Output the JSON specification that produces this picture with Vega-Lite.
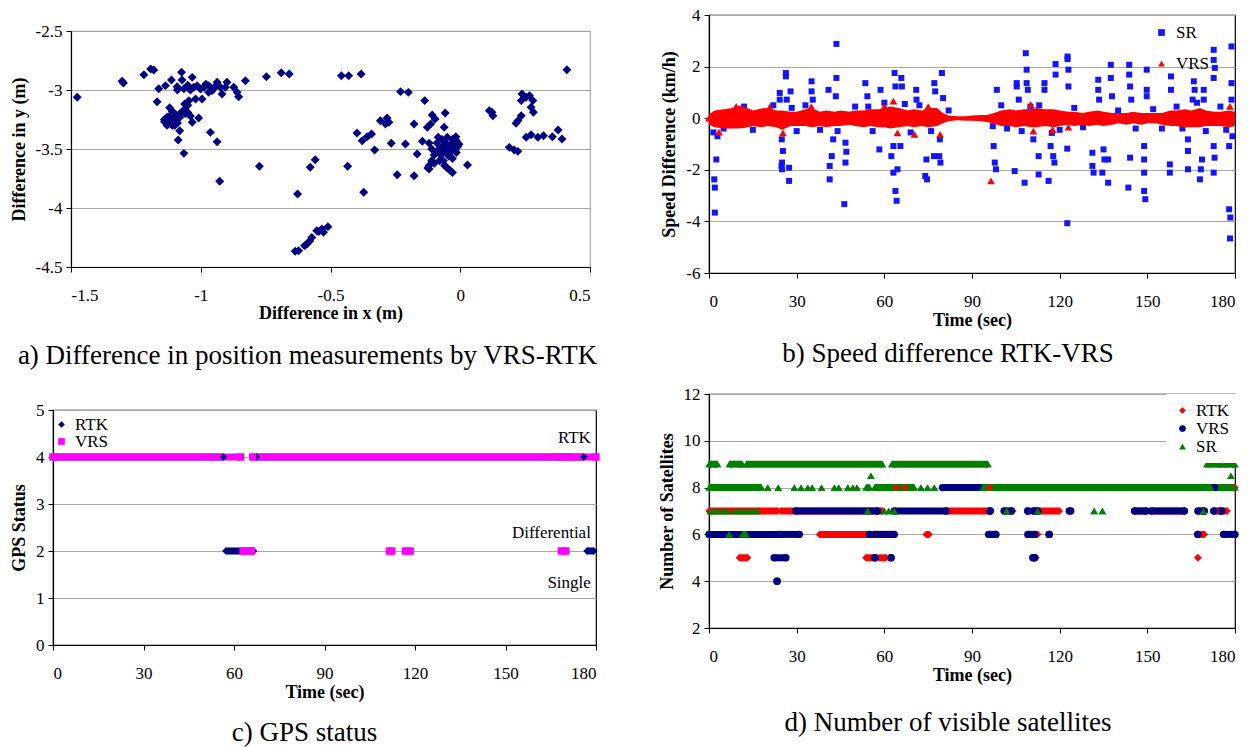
{
"$schema": "https://vega.github.io/schema/vega-lite/v6.json",
"background": "white",
"padding": {"left": 2, "top": 5, "right": 2, "bottom": 2},
"config": {
 "locale": {"number": {"decimal": ".", "thousands": ",", "grouping": [3], "currency": ["$", ""], "minus": "-"}},
 "font": "Liberation Serif",
 "view": {"stroke": "black", "strokeWidth": 1.2},
 "axis": {"labelFont": "Liberation Serif", "titleFont": "Liberation Serif", "labelFontSize": 17, "titleFontSize": 18, "titleFontWeight": "bold", "labelColor": "black", "titleColor": "black", "domainColor": "black", "domainWidth": 1.2, "tickColor": "black", "tickSize": 5, "gridColor": "#a8a8a8", "gridWidth": 1.2, "labelPadding": 4},
 "axisX": {"grid": false, "labelPadding": 15, "titlePadding": 2},
 "axisY": {"grid": true, "titlePadding": 7},
 "legend": {"labelFont": "Liberation Serif", "labelColor": "black", "labelFontSize": 17, "title": null},
 "title": {"font": "Liberation Serif", "fontSize": 27, "fontWeight": "normal", "color": "black", "orient": "bottom", "anchor": "middle", "frame": "group", "offset": 14}
},
"spacing": 56,
"resolve": {"scale": {"color": "independent", "shape": "independent"}, "legend": {"color": "independent", "shape": "independent"}},
"hconcat": [
 {
  "columns": 1, "align": "none", "spacing": 2,
  "resolve": {"scale": {"color": "independent", "shape": "independent"}, "legend": {"color": "independent", "shape": "independent"}},
  "concat": [
   {"width": 1, "height": 1, "view": {"stroke": null}, "data": {"values": [{"z": 0}]}, "mark": {"type": "point", "opacity": 0}, "encoding": {}},
   {
    "columns": 1, "align": "none", "spacing": 30,
    "resolve": {"scale": {"color": "independent", "shape": "independent"}, "legend": {"color": "independent", "shape": "independent"}},
    "concat": [
     {"spacing": 0, "hconcat": [
      {"width": 1, "height": 1, "view": {"stroke": null}, "data": {"values": [{"z": 0}]}, "mark": {"type": "point", "opacity": 0}, "encoding": {}},
      {
       "width": 519, "height": 236,
       "title": {"text": "a) Difference in position measurements by VRS-RTK", "offset": 21, "dx": -23},
       "view": {"stroke": "#a8a8a8"},
       "data": {"values": [
{"x":-1.476,"y":-3.062},{"x":-1.303,"y":-2.926},{"x":-1.298,"y":-2.94},{"x":-1.219,"y":-2.87},{"x":-1.193,"y":-2.822},{"x":-1.181,"y":-2.83},{"x":-1.162,"y":-2.99},{"x":-1.136,"y":-2.963},{"x":-1.113,"y":-2.915},{"x":-1.168,"y":-3.099},{"x":-1.074,"y":-2.85},{"x":-1.072,"y":-2.915},{"x":-1.091,"y":-2.972},{"x":-1.065,"y":-2.99},{"x":-1.033,"y":-2.893},{"x":-1.027,"y":-2.977},{"x":-1.014,"y":-2.963},{"x":-1.001,"y":-2.992},{"x":-0.988,"y":-2.977},{"x":-0.969,"y":-2.963},{"x":-0.957,"y":-3.006},{"x":-0.937,"y":-2.935},{"x":-0.924,"y":-2.977},{"x":-0.918,"y":-3.034},{"x":-0.899,"y":-2.935},{"x":-0.905,"y":-2.977},{"x":-0.873,"y":-2.977},{"x":-0.86,"y":-3.02},{"x":-0.854,"y":-3.057},{"x":-0.828,"y":-2.921},{"x":-1.02,"y":-3.076},{"x":-0.995,"y":-3.076},{"x":-1.062,"y":-3.119},{"x":-1.046,"y":-3.091},{"x":-1.033,"y":-3.274},{"x":-1.008,"y":-3.237},{"x":-1.081,"y":-3.345},{"x":-1.087,"y":-3.424},{"x":-1.065,"y":-3.537},{"x":-0.963,"y":-3.359},{"x":-0.937,"y":-3.438},{"x":-0.927,"y":-3.774},{"x":-0.747,"y":-2.887},{"x":-0.69,"y":-2.853},{"x":-0.659,"y":-2.864},{"x":-0.774,"y":-3.647},{"x":-0.578,"y":-3.655},{"x":-0.559,"y":-3.591},{"x":-0.627,"y":-3.881},{"x":-0.636,"y":-4.367},{"x":-0.623,"y":-4.362},{"x":-0.591,"y":-4.305},{"x":-0.572,"y":-4.249},{"x":-0.553,"y":-4.192},{"x":-0.533,"y":-4.178},{"x":-0.51,"y":-4.158},{"x":-0.527,"y":-4.206},{"x":-0.6,"y":-4.32},{"x":-0.58,"y":-4.28},{"x":-0.545,"y":-4.2},
{"x":-1.14,"y":-3.25},{"x":-1.13,"y":-3.28},{"x":-1.12,"y":-3.27},{"x":-1.11,"y":-3.24},{"x":-1.12,"y":-3.22},{"x":-1.1,"y":-3.2},{"x":-1.13,"y":-3.23},{"x":-1.1,"y":-3.27},{"x":-1.09,"y":-3.24},{"x":-1.08,"y":-3.2},{"x":-1.07,"y":-3.18},{"x":-1.06,"y":-3.16},{"x":-1.05,"y":-3.13},{"x":-1.11,"y":-3.3},{"x":-1.14,"y":-3.27},{"x":-1.09,"y":-3.28},{"x":-1.12,"y":-3.15},{"x":-1.11,"y":-3.18},{"x":-1.08,"y":-3.23},{"x":-1.06,"y":-3.2},{"x":-1.1,"y":-3.3},{"x":-1.13,"y":-3.3},{"x":-1.04,"y":-3.22},{"x":-1.05,"y":-3.19},{"x":-0.98,"y":-2.95},{"x":-0.95,"y":-2.99},{"x":-0.94,"y":-2.96},{"x":-0.97,"y":-3.02},{"x":-1.04,"y":-3.0},{"x":-1.05,"y":-2.96},{"x":-1.09,"y":-3.0},
{"x":-0.458,"y":-2.879},{"x":-0.43,"y":-2.879},{"x":-0.382,"y":-2.864},{"x":0.411,"y":-2.828},{"x":-0.23,"y":-3.014},{"x":-0.2,"y":-3.02},{"x":-0.137,"y":-3.09},{"x":-0.058,"y":-3.195},{"x":-0.108,"y":-3.212},{"x":-0.097,"y":-3.246},{"x":-0.114,"y":-3.288},{"x":-0.127,"y":-3.316},{"x":-0.178,"y":-3.288},{"x":-0.062,"y":-3.316},{"x":-0.308,"y":-3.26},{"x":-0.282,"y":-3.237},{"x":-0.275,"y":-3.274},{"x":-0.288,"y":-3.288},{"x":-0.398,"y":-3.364},{"x":-0.378,"y":-3.43},{"x":-0.359,"y":-3.396},{"x":-0.342,"y":-3.373},{"x":-0.33,"y":-3.508},{"x":-0.266,"y":-3.452},{"x":-0.211,"y":-3.458},{"x":-0.166,"y":-3.542},{"x":-0.146,"y":-3.435},{"x":-0.434,"y":-3.647},{"x":-0.372,"y":-3.867},{"x":-0.243,"y":-3.718},{"x":-0.178,"y":-3.726},{"x":-0.12,"y":-3.669},
{"x":-0.12,"y":-3.45},{"x":-0.11,"y":-3.5},{"x":-0.1,"y":-3.55},{"x":-0.09,"y":-3.45},{"x":-0.085,"y":-3.4},{"x":-0.08,"y":-3.5},{"x":-0.075,"y":-3.55},{"x":-0.07,"y":-3.48},{"x":-0.065,"y":-3.6},{"x":-0.06,"y":-3.52},{"x":-0.055,"y":-3.45},{"x":-0.05,"y":-3.5},{"x":-0.045,"y":-3.56},{"x":-0.04,"y":-3.47},{"x":-0.035,"y":-3.52},{"x":-0.03,"y":-3.58},{"x":-0.025,"y":-3.45},{"x":-0.02,"y":-3.5},{"x":-0.015,"y":-3.53},{"x":-0.01,"y":-3.48},{"x":-0.1,"y":-3.62},{"x":-0.11,"y":-3.6},{"x":-0.12,"y":-3.64},{"x":-0.125,"y":-3.66},{"x":-0.08,"y":-3.6},{"x":-0.06,"y":-3.64},{"x":-0.05,"y":-3.66},{"x":-0.04,"y":-3.68},{"x":-0.03,"y":-3.7},{"x":-0.09,"y":-3.52},{"x":-0.07,"y":-3.42},{"x":-0.05,"y":-3.4},{"x":-0.03,"y":-3.42},{"x":-0.015,"y":-3.43},{"x":-0.005,"y":-3.46},
{"x":-0.017,"y":-3.396},{"x":0.028,"y":-3.636},{"x":0.112,"y":-3.175},{"x":0.122,"y":-3.189},{"x":0.126,"y":-3.218},{"x":0.238,"y":-3.034},{"x":0.254,"y":-3.062},{"x":0.267,"y":-3.048},{"x":0.28,"y":-3.09},{"x":0.235,"y":-3.09},{"x":0.273,"y":-3.147},{"x":0.282,"y":-3.189},{"x":0.235,"y":-3.218},{"x":0.222,"y":-3.26},{"x":0.215,"y":-3.282},{"x":0.189,"y":-3.486},{"x":0.208,"y":-3.508},{"x":0.222,"y":-3.52},{"x":0.254,"y":-3.401},{"x":0.273,"y":-3.379},{"x":0.299,"y":-3.401},{"x":0.321,"y":-3.387},{"x":0.355,"y":-3.396},{"x":0.377,"y":-3.339},{"x":0.392,"y":-3.415}
       ]},
       "mark": {"type": "point", "shape": "diamond", "filled": true, "size": 80, "color": "#000080", "opacity": 1},
       "encoding": {
        "x": {"field": "x", "type": "quantitative", "scale": {"domain": [-1.5, 0.5], "nice": false, "zero": false}, "axis": {"title": "Difference in x (m)", "values": [-1.5, -1, -0.5, 0, 0.5], "format": "~g", "titlePadding": 1}},
        "y": {"field": "y", "type": "quantitative", "scale": {"domain": [-4.5, -2.5], "nice": false, "zero": false}, "axis": {"title": "Difference in y (m)", "values": [-4.5, -4, -3.5, -3, -2.5], "format": "~g"}}
       }
      }
     ]},
     {"spacing": 0, "hconcat": [
      {"width": 1, "height": 1, "view": {"stroke": null}, "data": {"values": [{"z": 0}]}, "mark": {"type": "point", "opacity": 0}, "encoding": {}},
      {
       "width": 543, "height": 235,
       "title": {"text": "c) GPS status", "offset": 19, "dx": -20},
       "data": {"values": [
{"s":"RTK","n":4,"t0":0,"t1":56.5},{"s":"RTK","n":4,"t0":67.5,"t1":176},{"s":"RTK","n":2,"t0":57.3,"t1":66.5},{"s":"RTK","n":2,"t0":177,"t1":179.3},
{"s":"VRS","n":4,"t0":0,"t1":62.2},{"s":"VRS","n":4,"t0":66.2,"t1":168.2},{"s":"VRS","n":4,"t0":170.3,"t1":180},{"s":"VRS","n":2,"t0":63,"t1":65.8},{"s":"VRS","n":2,"t0":111.5,"t1":112.3},{"s":"VRS","n":2,"t0":116.8,"t1":118.4},{"s":"VRS","n":2,"t0":168.5,"t1":170}
       ]},
       "layer": [
        {"transform": [{"filter": "datum.s === 'RTK'"}],
         "mark": {"type": "rule", "strokeWidth": 7, "strokeCap": "butt", "color": "#000080"},
         "encoding": {
          "x": {"field": "t0", "type": "quantitative", "scale": {"domain": [0, 180], "nice": false}, "axis": {"title": "Time (sec)", "values": [0, 30, 60, 90, 120, 150, 180]}},
          "x2": {"field": "t1"},
          "y": {"field": "n", "type": "quantitative", "scale": {"domain": [0, 5], "nice": false}, "axis": {"title": "GPS Status", "values": [0, 1, 2, 3, 4, 5]}}
         }},
        {"transform": [{"filter": "datum.s === 'VRS'"}],
         "mark": {"type": "rule", "strokeWidth": 7, "strokeCap": "butt", "color": "#ff00ff"},
         "encoding": {
          "x": {"field": "t0", "type": "quantitative"},
          "x2": {"field": "t1"},
          "y": {"field": "n", "type": "quantitative"}
         }},
        {"mark": {"type": "point", "filled": true, "size": 55, "opacity": 1},
         "encoding": {
          "x": {"field": "t0", "type": "quantitative"},
          "y": {"field": "n", "type": "quantitative"},
          "color": {"field": "s", "type": "nominal", "scale": {"domain": ["RTK", "VRS"], "range": ["#000080", "#ff00ff"]}, "legend": {"orient": "none", "legendX": 48, "legendY": 6, "rowPadding": -1, "symbolSize": 45, "labelOffset": 5}},
          "shape": {"field": "s", "type": "nominal", "scale": {"domain": ["RTK", "VRS"], "range": ["diamond", "square"]}}
         }},
        {"mark": {"type": "point", "filled": true, "size": 55, "opacity": 1},
         "encoding": {
          "x": {"field": "t1", "type": "quantitative"},
          "y": {"field": "n", "type": "quantitative"},
          "color": {"field": "s", "type": "nominal"},
          "shape": {"field": "s", "type": "nominal"}
         }},
        {"data": {"values": [{"label": "RTK", "t": 178.3, "v": 4.4}, {"label": "Differential", "t": 178.3, "v": 2.38}, {"label": "Single", "t": 178.3, "v": 1.32}]},
         "mark": {"type": "text", "align": "right", "baseline": "middle", "fontSize": 17, "font": "Liberation Serif", "color": "black"},
         "encoding": {
          "x": {"field": "t", "type": "quantitative"},
          "y": {"field": "v", "type": "quantitative"},
          "text": {"field": "label"}
         }}
       ]
      }
     ]}
    ]
   }
  ]
 },
 {
  "columns": 1, "align": "none", "spacing": 16,
  "resolve": {"scale": {"color": "independent", "shape": "independent"}, "legend": {"color": "independent", "shape": "independent"}},
  "concat": [
   {
    "width": 526, "height": 258,
    "title": {"text": "b) Speed difference RTK-VRS", "offset": 12, "dx": -24},
    "layer": [
     {"data": {"values": [
{"s":"SR","t":1.8,"v":-2.37},{"s":"SR","t":2,"v":-2.69},{"s":"SR","t":2,"v":-3.66},{"s":"SR","t":2.5,"v":-1.6},{"s":"SR","t":2.9,"v":-0.7},{"s":"SR","t":1.5,"v":-0.55},{"s":"SR","t":24.2,"v":0.98},{"s":"SR","t":24.2,"v":0.72},{"s":"SR","t":24.9,"v":-0.82},{"s":"SR","t":25.3,"v":-1.27},{"s":"SR","t":25,"v":-1.72},{"s":"SR","t":25,"v":-1.98},{"s":"SR","t":24.8,"v":-1.85},{"s":"SR","t":26.3,"v":1.75},{"s":"SR","t":26.3,"v":1.62},{"s":"SR","t":26.6,"v":0.72},{"s":"SR","t":27.4,"v":-2.43},{"s":"SR","t":27.4,"v":-1.92},{"s":"SR","t":27.9,"v":1.04},{"s":"SR","t":28.3,"v":0.4},{"s":"SR","t":35.1,"v":1.43},{"s":"SR","t":35.1,"v":1.04},{"s":"SR","t":35.5,"v":0.72},{"s":"SR","t":40.9,"v":1.1},{"s":"SR","t":41.3,"v":-2.37},{"s":"SR","t":41.3,"v":-1.85},{"s":"SR","t":42,"v":-1.47},{"s":"SR","t":42.5,"v":-0.82},{"s":"SR","t":43.6,"v":2.88},{"s":"SR","t":43.6,"v":1.56},{"s":"SR","t":43.4,"v":0.85},{"s":"SR","t":46.3,"v":-3.33},{"s":"SR","t":46.7,"v":-1.72},{"s":"SR","t":46.7,"v":-0.95},{"s":"SR","t":47,"v":-1.3},{"s":"SR","t":53.5,"v":1.36},{"s":"SR","t":54.2,"v":0.85},{"s":"SR","t":54.5,"v":0.45},{"s":"SR","t":58.3,"v":-1.21},{"s":"SR","t":58.7,"v":1.1},{"s":"SR","t":62.4,"v":-1.47},{"s":"SR","t":63.1,"v":-2.11},{"s":"SR","t":63.1,"v":-1.08},{"s":"SR","t":63.5,"v":1.75},{"s":"SR","t":63.8,"v":1.23},{"s":"SR","t":63.8,"v":-2.82},{"s":"SR","t":64.2,"v":-3.2},{"s":"SR","t":64.5,"v":-1.98},{"s":"SR","t":65.8,"v":1.56},{"s":"SR","t":66,"v":1.23},{"s":"SR","t":65.5,"v":-1.08},{"s":"SR","t":70.9,"v":1.1},{"s":"SR","t":71,"v":0.72},{"s":"SR","t":74.4,"v":-1.6},{"s":"SR","t":74,"v":-2.24},{"s":"SR","t":74.6,"v":-2.37},{"s":"SR","t":77.1,"v":1.36},{"s":"SR","t":77.4,"v":1.04},{"s":"SR","t":77,"v":-1.47},{"s":"SR","t":78.8,"v":-1.47},{"s":"SR","t":79.2,"v":-1.72},{"s":"SR","t":79.7,"v":1.75},{"s":"SR","t":80.1,"v":0.78},{"s":"SR","t":79,"v":-0.82},{"s":"SR","t":97.1,"v":-0.31},{"s":"SR","t":97.4,"v":-1.08},{"s":"SR","t":97.8,"v":-1.72},{"s":"SR","t":98.5,"v":1.1},{"s":"SR","t":98.2,"v":-1.98},{"s":"SR","t":104.6,"v":-2.05},{"s":"SR","t":105.3,"v":1.36},{"s":"SR","t":105.3,"v":1.23},{"s":"SR","t":106,"v":0.72},{"s":"SR","t":108,"v":-2.5},{"s":"SR","t":108.4,"v":2.52},{"s":"SR","t":108.7,"v":1.88},{"s":"SR","t":108.7,"v":1.36},{"s":"SR","t":109.1,"v":1.1},{"s":"SR","t":111,"v":-0.82},{"s":"SR","t":112.8,"v":-1.47},{"s":"SR","t":112.8,"v":-2.18},{"s":"SR","t":114.8,"v":1.36},{"s":"SR","t":114.8,"v":1.1},{"s":"SR","t":116.2,"v":-2.43},{"s":"SR","t":116.9,"v":-1.08},{"s":"SR","t":117.3,"v":-0.57},{"s":"SR","t":118.2,"v":-1.72},{"s":"SR","t":117.8,"v":-1.47},{"s":"SR","t":118.6,"v":2.1},{"s":"SR","t":118.6,"v":1.69},{"s":"SR","t":122.7,"v":2.39},{"s":"SR","t":122.7,"v":2.29},{"s":"SR","t":123,"v":1.88},{"s":"SR","t":123,"v":1.23},{"s":"SR","t":122.6,"v":-1.18},{"s":"SR","t":122.6,"v":-4.07},{"s":"SR","t":131.2,"v":-1.34},{"s":"SR","t":131.6,"v":-2.11},{"s":"SR","t":131.2,"v":-1.85},{"s":"SR","t":133.2,"v":1.49},{"s":"SR","t":133.2,"v":1.1},{"s":"SR","t":133.5,"v":0.72},{"s":"SR","t":134.6,"v":-2.11},{"s":"SR","t":135,"v":-1.21},{"s":"SR","t":135.3,"v":-1.6},{"s":"SR","t":136.6,"v":-2.5},{"s":"SR","t":136.6,"v":-1.6},{"s":"SR","t":137.5,"v":2.07},{"s":"SR","t":137.5,"v":1.56},{"s":"SR","t":137.9,"v":0.85},{"s":"SR","t":143.8,"v":2.07},{"s":"SR","t":143.8,"v":1.69},{"s":"SR","t":144.1,"v":1.23},{"s":"SR","t":144.5,"v":0.72},{"s":"SR","t":143.5,"v":-2.69},{"s":"SR","t":144.1,"v":-1.53},{"s":"SR","t":148.9,"v":-1.08},{"s":"SR","t":148.9,"v":-2.82},{"s":"SR","t":149.3,"v":-3.14},{"s":"SR","t":148.9,"v":-2.11},{"s":"SR","t":148.9,"v":-1.6},{"s":"SR","t":149.8,"v":1.88},{"s":"SR","t":149.8,"v":1.1},{"s":"SR","t":149.8,"v":0.85},{"s":"SR","t":157.7,"v":-2.11},{"s":"SR","t":157.7,"v":-1.79},{"s":"SR","t":158.1,"v":1.1},{"s":"SR","t":158.1,"v":1.62},{"s":"SR","t":163.9,"v":-1.98},{"s":"SR","t":163.9,"v":-1.27},{"s":"SR","t":163.9,"v":-0.82},{"s":"SR","t":165.9,"v":1.43},{"s":"SR","t":166.2,"v":1.1},{"s":"SR","t":165.5,"v":0.72},{"s":"SR","t":168,"v":-2.37},{"s":"SR","t":168.3,"v":-1.98},{"s":"SR","t":168.7,"v":-1.6},{"s":"SR","t":169.3,"v":1.1},{"s":"SR","t":169.3,"v":0.72},{"s":"SR","t":172.7,"v":2.65},{"s":"SR","t":172.7,"v":2.26},{"s":"SR","t":172.7,"v":1.56},{"s":"SR","t":173.1,"v":1.95},{"s":"SR","t":172.7,"v":-2.11},{"s":"SR","t":173,"v":-1.53},{"s":"SR","t":172.7,"v":-1.08},{"s":"SR","t":178,"v":-3.53},{"s":"SR","t":178.4,"v":-3.85},{"s":"SR","t":178.3,"v":-4.66},{"s":"SR","t":178.8,"v":2.78},{"s":"SR","t":178.8,"v":1.36},{"s":"SR","t":178.8,"v":0.72},{"s":"SR","t":179.1,"v":-0.7},{"s":"SR","t":178,"v":-1.08},
{"s":"SR","t":5,"v":-0.4},{"s":"SR","t":12,"v":0.45},{"s":"SR","t":15,"v":-0.45},{"s":"SR","t":22,"v":0.5},{"s":"SR","t":30,"v":-0.5},{"s":"SR","t":33,"v":0.5},{"s":"SR","t":38,"v":-0.45},{"s":"SR","t":44,"v":-0.5},{"s":"SR","t":50,"v":0.45},{"s":"SR","t":56,"v":-0.5},{"s":"SR","t":60,"v":0.6},{"s":"SR","t":67,"v":0.55},{"s":"SR","t":69,"v":-0.55},{"s":"SR","t":72,"v":0.5},{"s":"SR","t":76,"v":-0.5},{"s":"SR","t":82,"v":0.3},{"s":"SR","t":100,"v":0.5},{"s":"SR","t":102,"v":-0.4},{"s":"SR","t":107,"v":-0.5},{"s":"SR","t":110,"v":0.45},{"s":"SR","t":113,"v":0.5},{"s":"SR","t":120,"v":-0.45},{"s":"SR","t":125,"v":0.4},{"s":"SR","t":128,"v":-0.35},{"s":"SR","t":140,"v":0.3},{"s":"SR","t":146,"v":-0.4},{"s":"SR","t":152,"v":0.35},{"s":"SR","t":155,"v":-0.4},{"s":"SR","t":160,"v":0.45},{"s":"SR","t":162,"v":-0.4},{"s":"SR","t":167,"v":0.6},{"s":"SR","t":170,"v":-0.5},{"s":"SR","t":175,"v":0.45},{"s":"SR","t":177,"v":-0.45}
      ]},
      "mark": {"type": "point", "filled": true, "size": 36, "opacity": 1},
      "encoding": {
       "x": {"field": "t", "type": "quantitative", "scale": {"domain": [0, 180], "nice": false}, "axis": {"title": "Time (sec)", "values": [0, 30, 60, 90, 120, 150, 180], "titlePadding": 2}},
       "y": {"field": "v", "type": "quantitative", "scale": {"domain": [-6, 4], "nice": false}, "axis": {"title": "Speed Difference (km/h)", "values": [-6, -4, -2, 0, 2, 4]}},
       "color": {"field": "s", "type": "nominal", "scale": {"domain": ["SR", "VRS"], "range": ["#1515f5", "#ff0000"]}, "legend": {"orient": "none", "legendX": 444, "legendY": 9, "rowPadding": 13, "symbolSize": 45, "labelOffset": 6}},
       "shape": {"field": "s", "type": "nominal", "scale": {"domain": ["SR", "VRS"], "range": ["square", "triangle-up"]}}
      }},
     {"data": {"values": [
{"t":0,"lo":-0.25,"hi":0.15},{"t":2,"lo":-0.35,"hi":0.3},{"t":5,"lo":-0.4,"hi":0.35},{"t":8,"lo":-0.4,"hi":0.4},{"t":10,"lo":-0.4,"hi":0.48},{"t":12,"lo":-0.38,"hi":0.45},{"t":15,"lo":-0.3,"hi":0.3},{"t":18,"lo":-0.35,"hi":0.38},{"t":20,"lo":-0.3,"hi":0.4},{"t":23,"lo":-0.35,"hi":0.3},{"t":25,"lo":-0.45,"hi":0.3},{"t":28,"lo":-0.3,"hi":0.25},{"t":30,"lo":-0.3,"hi":0.25},{"t":33,"lo":-0.3,"hi":0.35},{"t":35,"lo":-0.35,"hi":0.4},{"t":38,"lo":-0.3,"hi":0.25},{"t":40,"lo":-0.35,"hi":0.3},{"t":43,"lo":-0.3,"hi":0.25},{"t":45,"lo":-0.3,"hi":0.3},{"t":48,"lo":-0.25,"hi":0.25},{"t":50,"lo":-0.3,"hi":0.3},{"t":53,"lo":-0.35,"hi":0.3},{"t":55,"lo":-0.3,"hi":0.35},{"t":58,"lo":-0.35,"hi":0.35},{"t":60,"lo":-0.35,"hi":0.4},{"t":62,"lo":-0.4,"hi":0.45},{"t":65,"lo":-0.35,"hi":0.4},{"t":68,"lo":-0.3,"hi":0.3},{"t":70,"lo":-0.35,"hi":0.35},{"t":73,"lo":-0.3,"hi":0.3},{"t":75,"lo":-0.35,"hi":0.4},{"t":78,"lo":-0.3,"hi":0.4},{"t":80,"lo":-0.2,"hi":0.2},{"t":82,"lo":-0.12,"hi":0.1},{"t":85,"lo":-0.08,"hi":0.08},{"t":88,"lo":-0.1,"hi":0.08},{"t":90,"lo":-0.1,"hi":0.1},{"t":93,"lo":-0.12,"hi":0.12},{"t":95,"lo":-0.15,"hi":0.12},{"t":97,"lo":-0.2,"hi":0.18},{"t":100,"lo":-0.3,"hi":0.3},{"t":103,"lo":-0.3,"hi":0.35},{"t":105,"lo":-0.35,"hi":0.3},{"t":108,"lo":-0.3,"hi":0.35},{"t":110,"lo":-0.35,"hi":0.35},{"t":112,"lo":-0.35,"hi":0.4},{"t":115,"lo":-0.3,"hi":0.35},{"t":118,"lo":-0.35,"hi":0.35},{"t":120,"lo":-0.3,"hi":0.3},{"t":123,"lo":-0.25,"hi":0.25},{"t":125,"lo":-0.3,"hi":0.25},{"t":128,"lo":-0.25,"hi":0.2},{"t":130,"lo":-0.3,"hi":0.25},{"t":133,"lo":-0.25,"hi":0.3},{"t":135,"lo":-0.3,"hi":0.25},{"t":138,"lo":-0.25,"hi":0.2},{"t":140,"lo":-0.2,"hi":0.2},{"t":143,"lo":-0.25,"hi":0.2},{"t":145,"lo":-0.2,"hi":0.25},{"t":148,"lo":-0.25,"hi":0.2},{"t":150,"lo":-0.2,"hi":0.2},{"t":153,"lo":-0.2,"hi":0.2},{"t":155,"lo":-0.25,"hi":0.2},{"t":158,"lo":-0.3,"hi":0.3},{"t":160,"lo":-0.3,"hi":0.3},{"t":163,"lo":-0.35,"hi":0.35},{"t":165,"lo":-0.35,"hi":0.3},{"t":168,"lo":-0.35,"hi":0.4},{"t":170,"lo":-0.3,"hi":0.3},{"t":173,"lo":-0.3,"hi":0.25},{"t":175,"lo":-0.3,"hi":0.25},{"t":178,"lo":-0.35,"hi":0.3},{"t":180,"lo":-0.3,"hi":0.25}
      ]},
      "mark": {"type": "area", "color": "#ff0000", "opacity": 1},
      "encoding": {
       "x": {"field": "t", "type": "quantitative"},
       "y": {"field": "lo", "type": "quantitative"},
       "y2": {"field": "hi"}
      }},
     {"data": {"values": [
{"s":"VRS","t":3.4,"v":-0.54},{"s":"VRS","t":25.3,"v":-0.57},{"s":"VRS","t":63.1,"v":0.66},{"s":"VRS","t":64.5,"v":-0.57},{"s":"VRS","t":70.3,"v":-0.63},{"s":"VRS","t":79.1,"v":-0.63},{"s":"VRS","t":96.5,"v":-2.43},{"s":"VRS","t":110.1,"v":0.53},{"s":"VRS","t":111,"v":-0.5},{"s":"VRS","t":117.6,"v":-0.44},{"s":"VRS","t":123,"v":-0.35},{"s":"VRS","t":178.3,"v":0.46},{"s":"VRS","t":9.3,"v":0.46},{"s":"VRS","t":20.8,"v":0.44},{"s":"VRS","t":35,"v":0.45},{"s":"VRS","t":75,"v":0.45},{"s":"VRS","t":60,"v":0.45},{"s":"VRS","t":0,"v":0}
      ]},
      "mark": {"type": "point", "filled": true, "size": 60, "opacity": 1},
      "encoding": {
       "x": {"field": "t", "type": "quantitative"},
       "y": {"field": "v", "type": "quantitative"},
       "color": {"field": "s", "type": "nominal"},
       "shape": {"field": "s", "type": "nominal"}
      }}
    ]
   },
   {
    "width": 526, "height": 234,
    "title": {"text": "d) Number of visible satellites", "offset": 26, "dx": -24},
    "data": {"values": [
{"s":"RTK","n":7,"t0":0,"t1":17},{"s":"RTK","n":7,"t0":17.2,"t1":23.5},{"s":"RTK","n":7,"t0":24.6,"t1":59.4},{"s":"RTK","n":7,"t0":81,"t1":96.5},{"s":"RTK","n":7,"t0":101,"t1":104},{"s":"RTK","n":7,"t0":110.8,"t1":115.3},{"s":"RTK","n":7,"t0":115.9,"t1":119.9},{"s":"RTK","n":7,"t0":145.6,"t1":149.6},{"s":"RTK","n":7,"t0":151.3,"t1":162.7},{"s":"RTK","n":7,"t0":168,"t1":169.5},{"s":"RTK","n":7,"t0":174.4,"t1":177.3},
{"s":"RTK","n":6,"t0":0,"t1":23.5},{"s":"RTK","n":6,"t0":37.8,"t1":54.3},{"s":"RTK","n":6,"t0":56.6,"t1":63.4},{"s":"RTK","n":6,"t0":74.3,"t1":75.3},{"s":"RTK","n":6,"t0":95.7,"t1":98.2},{"s":"RTK","n":6,"t0":109.5,"t1":112.5},{"s":"RTK","n":6,"t0":168.5,"t1":169.5},
{"s":"RTK","n":5,"t0":10.4,"t1":13.2},{"s":"RTK","n":5,"t0":53.7,"t1":56.6},{"s":"RTK","n":5,"t0":58.3,"t1":60.6},{"s":"RTK","n":5,"t0":110.8,"t1":111.9},{"s":"RTK","n":5,"t0":167.3,"t1":167.3},
{"s":"RTK","n":8,"t0":64,"t1":67},{"s":"RTK","n":8,"t0":96,"t1":180},
{"s":"VRS","n":8,"t0":79.9,"t1":173},
{"s":"VRS","n":7,"t0":29.7,"t1":57.7},{"s":"VRS","n":7,"t0":63.4,"t1":81.1},{"s":"VRS","n":7,"t0":96.2,"t1":96.2},{"s":"VRS","n":7,"t0":101,"t1":103.5},{"s":"VRS","n":7,"t0":109.1,"t1":109.1},{"s":"VRS","n":7,"t0":111,"t1":112.5},{"s":"VRS","n":7,"t0":123.3,"t1":123.8},{"s":"VRS","n":7,"t0":145.6,"t1":149.6},{"s":"VRS","n":7,"t0":151.3,"t1":162.7},{"s":"VRS","n":7,"t0":167.3,"t1":169.5},{"s":"VRS","n":7,"t0":172.7,"t1":175.5},
{"s":"VRS","n":6,"t0":0,"t1":23.5},{"s":"VRS","n":6,"t0":24.6,"t1":30.9},{"s":"VRS","n":6,"t0":54.9,"t1":54.9},{"s":"VRS","n":6,"t0":56.6,"t1":63.4},{"s":"VRS","n":6,"t0":95.7,"t1":98.2},{"s":"VRS","n":6,"t0":109.1,"t1":111.5},{"s":"VRS","n":6,"t0":116.4,"t1":116.4},{"s":"VRS","n":6,"t0":167.3,"t1":167.3},{"s":"VRS","n":6,"t0":176.1,"t1":180},
{"s":"VRS","n":5,"t0":22.3,"t1":26.3},{"s":"VRS","n":5,"t0":56.8,"t1":56.8},{"s":"VRS","n":5,"t0":62.3,"t1":62.3},{"s":"VRS","n":5,"t0":110.8,"t1":111.5},
{"s":"VRS","n":4,"t0":23.3,"t1":23.3},
{"s":"SR","n":9,"t0":0,"t1":3},{"s":"SR","n":9,"t0":6.9,"t1":11.5},{"s":"SR","n":9,"t0":12.7,"t1":59.4},{"s":"SR","n":9,"t0":62.5,"t1":95.5},{"s":"SR","n":9,"t0":170.3,"t1":175.2},{"s":"SR","n":9,"t0":176.3,"t1":180},
{"s":"SR","n":8.5,"t0":55.4,"t1":55.4},{"s":"SR","n":8.5,"t0":178.6,"t1":178.6},
{"s":"SR","n":8,"t0":0,"t1":18},{"s":"SR","n":8,"t0":20.1,"t1":20.1},{"s":"SR","n":8,"t0":23.7,"t1":23.7},{"s":"SR","n":8,"t0":29.2,"t1":29.2},{"s":"SR","n":8,"t0":31.5,"t1":31.5},{"s":"SR","n":8,"t0":33.8,"t1":33.8},{"s":"SR","n":8,"t0":35.3,"t1":35.3},{"s":"SR","n":8,"t0":38.5,"t1":38.5},{"s":"SR","n":8,"t0":42.9,"t1":42.9},{"s":"SR","n":8,"t0":44.4,"t1":44.4},{"s":"SR","n":8,"t0":47.5,"t1":47.5},{"s":"SR","n":8,"t0":49.2,"t1":49.2},{"s":"SR","n":8,"t0":50.6,"t1":50.6},{"s":"SR","n":8,"t0":53.7,"t1":55},{"s":"SR","n":8,"t0":56.6,"t1":70.3},{"s":"SR","n":8,"t0":72.5,"t1":72.5},{"s":"SR","n":8,"t0":74.8,"t1":74.8},{"s":"SR","n":8,"t0":77.1,"t1":77.1},{"s":"SR","n":8,"t0":93.7,"t1":171.8},{"s":"SR","n":8,"t0":172.9,"t1":180},
{"s":"SR","n":7,"t0":0.5,"t1":0.5},{"s":"SR","n":7,"t0":2,"t1":2},{"s":"SR","n":7,"t0":3.5,"t1":3.5},{"s":"SR","n":7,"t0":5,"t1":5},{"s":"SR","n":7,"t0":6.5,"t1":6.5},{"s":"SR","n":7,"t0":9,"t1":9},{"s":"SR","n":7,"t0":10.5,"t1":10.5},{"s":"SR","n":7,"t0":12,"t1":12},{"s":"SR","n":7,"t0":13.5,"t1":13.5},{"s":"SR","n":7,"t0":15,"t1":15},{"s":"SR","n":7,"t0":16.5,"t1":16.5},{"s":"SR","n":7,"t0":54.3,"t1":54.3},{"s":"SR","n":7,"t0":60,"t1":60},{"s":"SR","n":7,"t0":61.5,"t1":61.5},{"s":"SR","n":7,"t0":63.4,"t1":63.4},{"s":"SR","n":7,"t0":101.9,"t1":101.9},{"s":"SR","n":7,"t0":112.5,"t1":112.5},{"s":"SR","n":7,"t0":131.8,"t1":131.8},{"s":"SR","n":7,"t0":134.6,"t1":134.6},{"s":"SR","n":7,"t0":169.2,"t1":169.2},
{"s":"SR","n":6,"t0":6.9,"t1":6.9},{"s":"SR","n":6,"t0":11.5,"t1":12.7}
    ]},
    "layer": [
     {"transform": [{"filter": "datum.s === 'RTK' && datum.t1 > datum.t0"}],
      "mark": {"type": "rule", "strokeWidth": 7, "strokeCap": "butt", "color": "#ff0000"},
      "encoding": {
       "x": {"field": "t0", "type": "quantitative", "scale": {"domain": [0, 180], "nice": false}, "axis": {"title": "Time (sec)", "values": [0, 30, 60, 90, 120, 150, 180]}},
       "x2": {"field": "t1"},
       "y": {"field": "n", "type": "quantitative", "scale": {"domain": [2, 12], "nice": false, "zero": false}, "axis": {"title": "Number of Satellites", "values": [2, 4, 6, 8, 10, 12]}}
      }},
     {"transform": [{"filter": "datum.s === 'VRS' && datum.t1 > datum.t0"}],
      "mark": {"type": "rule", "strokeWidth": 7, "strokeCap": "butt", "color": "#000080"},
      "encoding": {
       "x": {"field": "t0", "type": "quantitative"},
       "x2": {"field": "t1"},
       "y": {"field": "n", "type": "quantitative"}
      }},
     {"transform": [{"filter": "datum.s === 'SR' && datum.t1 > datum.t0"}],
      "mark": {"type": "rule", "strokeWidth": 7, "strokeCap": "butt", "color": "#008000"},
      "encoding": {
       "x": {"field": "t0", "type": "quantitative"},
       "x2": {"field": "t1"},
       "y": {"field": "n", "type": "quantitative"}
      }},
     {"mark": {"type": "point", "filled": true, "size": 55, "opacity": 1},
      "encoding": {
       "x": {"field": "t0", "type": "quantitative"},
       "y": {"field": "n", "type": "quantitative"},
       "color": {"field": "s", "type": "nominal", "scale": {"domain": ["RTK", "VRS", "SR"], "range": ["#ff0000", "#000080", "#008000"]}, "legend": {"orient": "none", "legendX": 457, "legendY": 0, "padding": 8, "fillColor": "white", "rowPadding": 0, "symbolSize": 45, "labelOffset": 5}},
       "shape": {"field": "s", "type": "nominal", "scale": {"domain": ["RTK", "VRS", "SR"], "range": ["diamond", "circle", "triangle-up"]}}
      }},
     {"mark": {"type": "point", "filled": true, "size": 55, "opacity": 1},
      "encoding": {
       "x": {"field": "t1", "type": "quantitative"},
       "y": {"field": "n", "type": "quantitative"},
       "color": {"field": "s", "type": "nominal"},
       "shape": {"field": "s", "type": "nominal"}
      }}
    ]
   }
  ]
 }
]
}
